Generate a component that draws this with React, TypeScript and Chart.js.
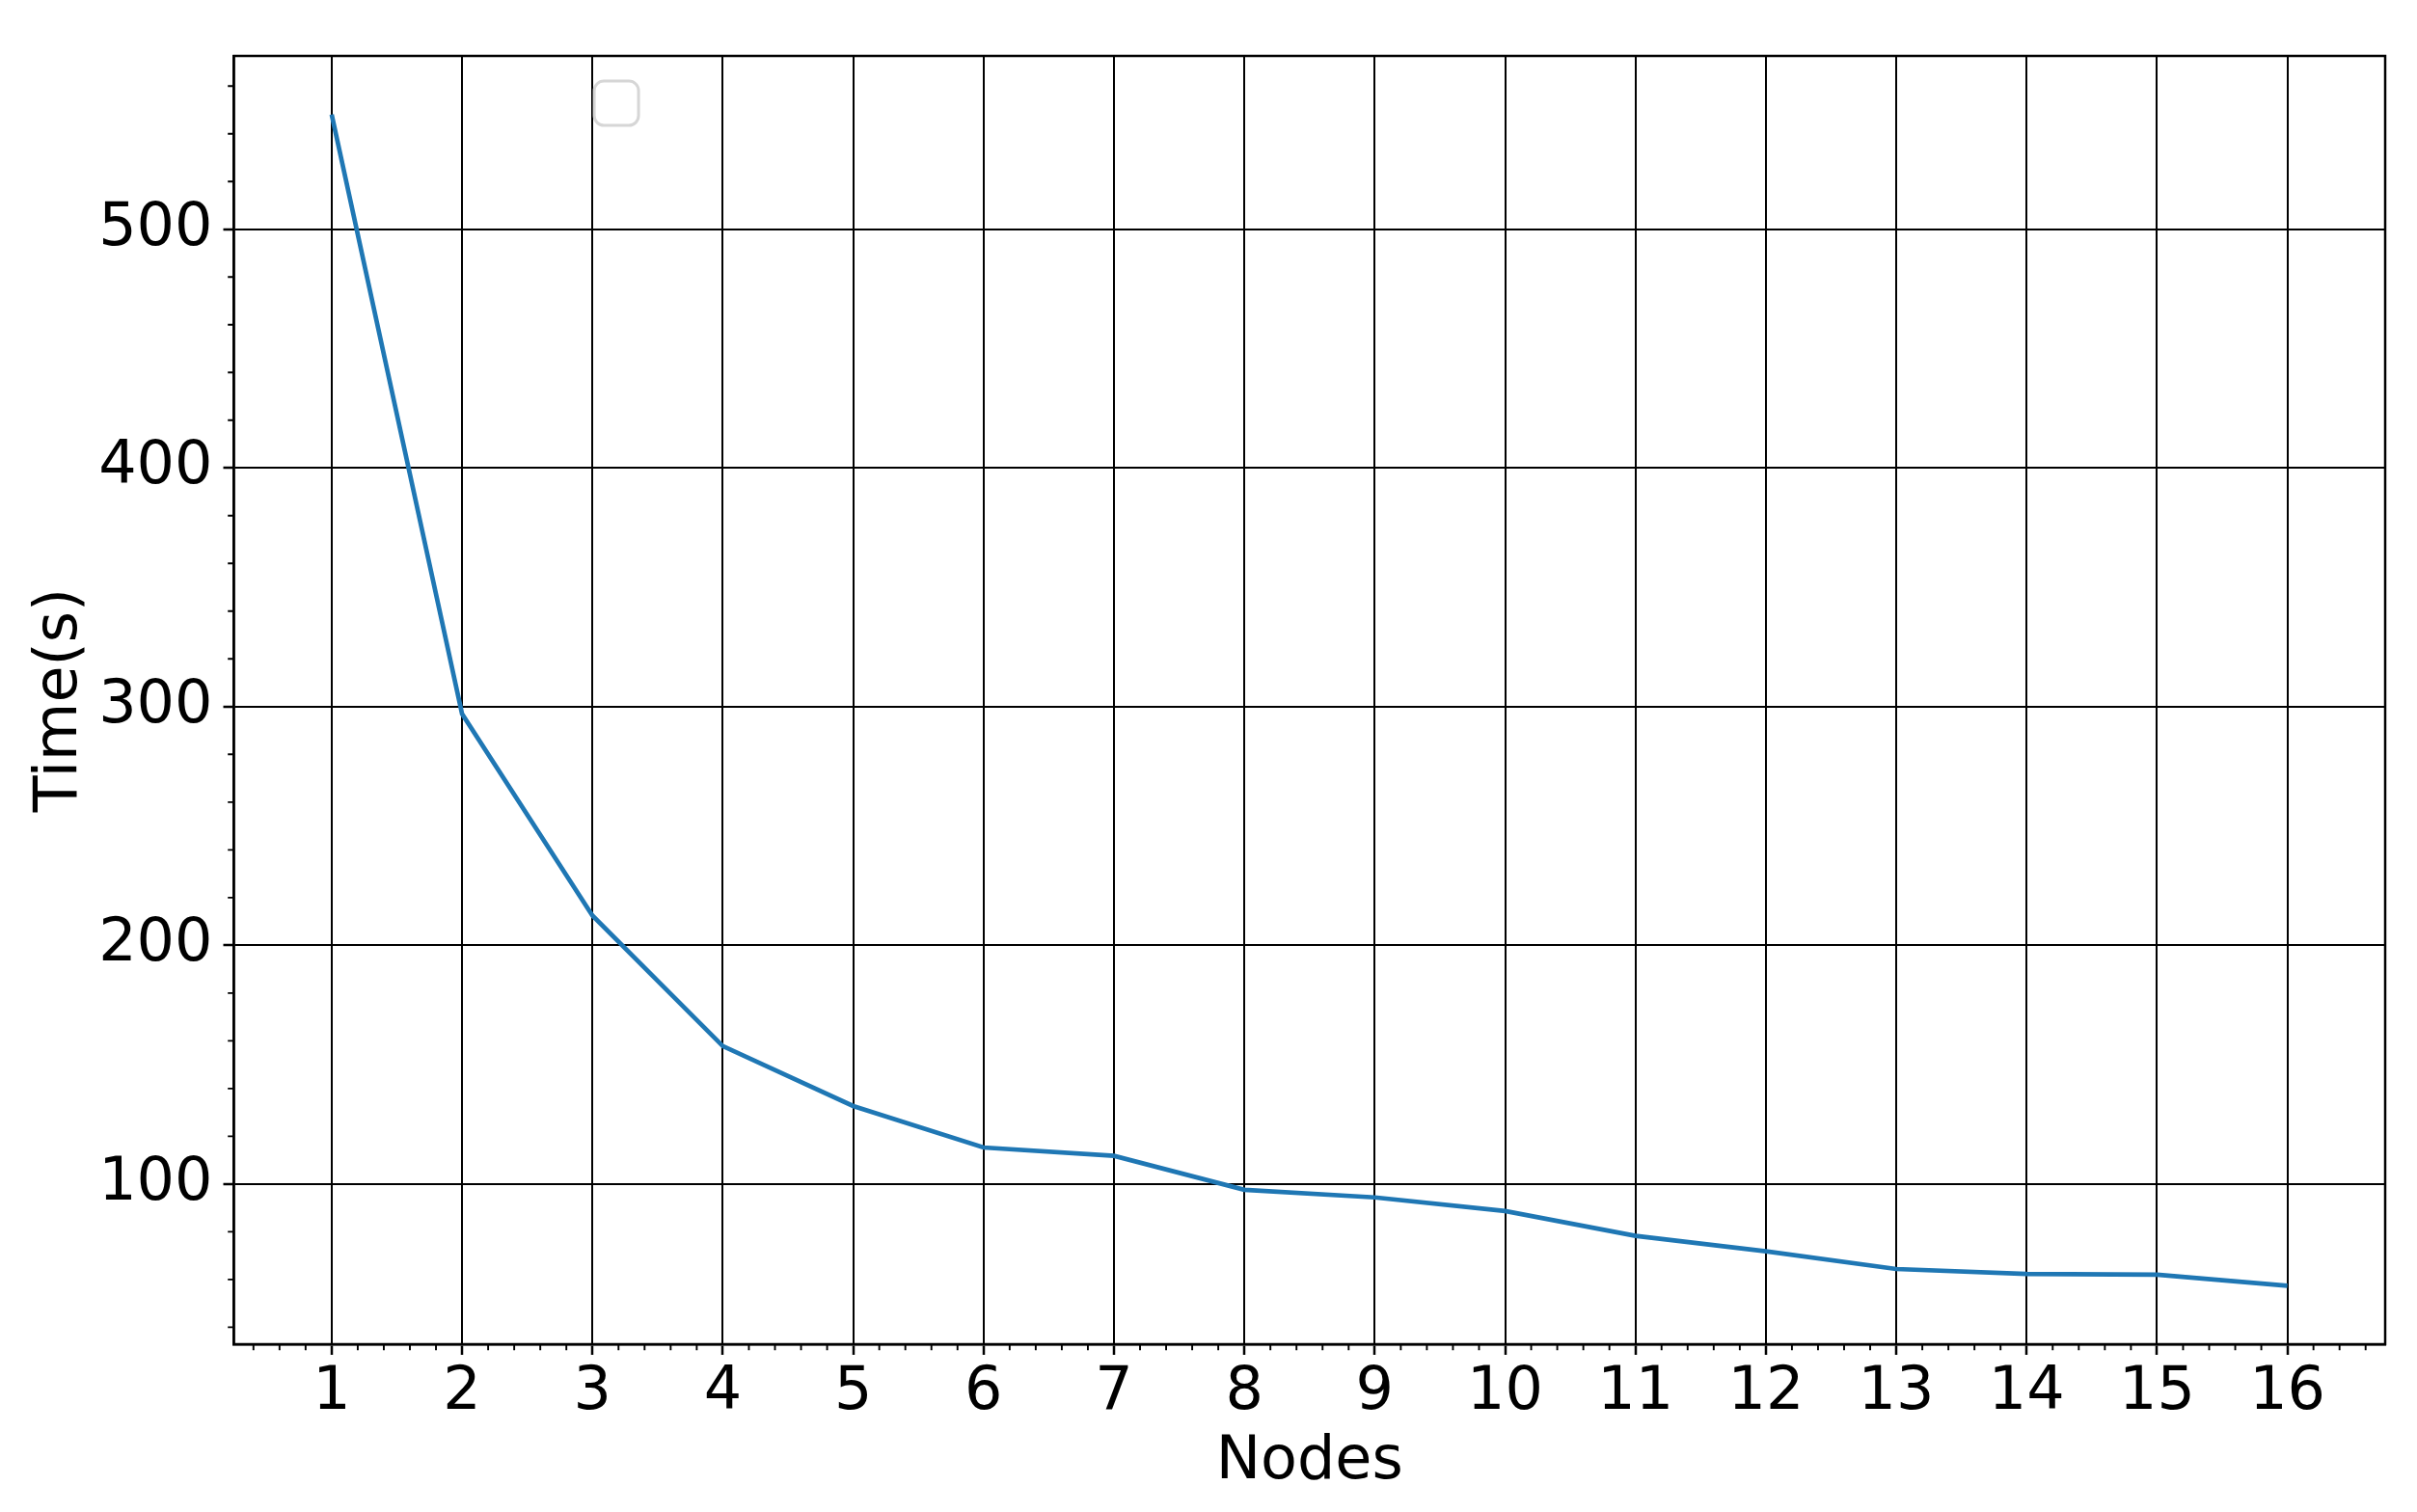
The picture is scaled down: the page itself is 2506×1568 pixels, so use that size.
import React, { useEffect, useRef } from "react";
import { Chart, registerables } from "chart.js";

Chart.register(...registerables);

// ---- data ----
const nodes = [1, 2, 3, 4, 5, 6, 7, 8, 9, 10, 11, 12, 13, 14, 15, 16];
const times = [548.1, 297.0, 212.5, 157.8, 132.7, 115.3, 111.8, 97.6, 94.4, 88.7, 78.3, 71.8, 64.4, 62.3, 62.0, 57.4];
const xTickValues = [1, 2, 3, 4, 5, 6, 7, 8, 9, 10, 11, 12, 13, 14, 15, 16];
const yTickValues = [100, 200, 300, 400, 500];
const xLimits = [0.25, 16.75];
const yLimits = [32.9, 572.6];
const xMinorStep = 0.2;
const yMinorStep = 20;
const xLabel = "Nodes";
const yLabel = "Time(s)";

const W = 2506;
const H = 1568;
const FONT = "'DejaVu Sans', sans-serif";
const FS = 62;

const frameAndMinor = {
  id: "frameAndMinor",
  afterDraw(chart: any) {
    const { ctx, chartArea } = chart;
    const xs = chart.scales.x;
    const ys = chart.scales.y;
    ctx.save();
    // minor ticks
    ctx.strokeStyle = "#000";
    ctx.lineWidth = 1.9;
    ctx.beginPath();
    for (let v = Math.ceil(xLimits[0] / xMinorStep) * xMinorStep; v <= xLimits[1] + 1e-9; v += xMinorStep) {
      const r = Math.round(v * 1000) / 1000;
      if (Math.abs(r - Math.round(r)) < 1e-6) continue;
      const px = xs.getPixelForValue(r);
      ctx.moveTo(px, chartArea.bottom);
      ctx.lineTo(px, chartArea.bottom + 6.3);
    }
    for (let v = Math.ceil(yLimits[0] / yMinorStep) * yMinorStep; v <= yLimits[1]; v += yMinorStep) {
      if (v % 100 === 0) continue;
      const py = ys.getPixelForValue(v);
      ctx.moveTo(chartArea.left, py);
      ctx.lineTo(chartArea.left - 6.3, py);
    }
    ctx.stroke();
    // frame (all four spines)
    ctx.lineWidth = 2.5;
    ctx.strokeRect(chartArea.left, chartArea.top, chartArea.right - chartArea.left, chartArea.bottom - chartArea.top);
    // empty legend frame
    const cw = chartArea.right - chartArea.left;
    const ch = chartArea.bottom - chartArea.top;
    const lx = chartArea.left + cw * 0.1675;
    const ly = chartArea.top + ch * 0.0195;
    const lw = cw * 0.0206;
    const lh = ch * 0.0344;
    ctx.strokeStyle = "#d6d6d6";
    ctx.fillStyle = "rgba(255,255,255,0.8)";
    ctx.lineWidth = 3;
    ctx.beginPath();
    (ctx as any).roundRect(lx, ly, lw, lh, 10);
    ctx.fill();
    ctx.stroke();
    ctx.restore();
  },
};

export default function App() {
  const ref = useRef<HTMLCanvasElement | null>(null);
  useEffect(() => {
    document.body.style.margin = "0";
    document.body.style.overflow = "hidden";
    const canvas = ref.current!;
    const font = { family: FONT, size: FS };
    const chart = new Chart(canvas, {
      type: "line",
      data: {
        datasets: [
          {
            data: nodes.map((n, i) => ({ x: n, y: times[i] })),
            borderColor: "#1f77b4",
            backgroundColor: "#1f77b4",
            borderWidth: 4.7,
            pointRadius: 0,
            tension: 0,
            fill: false,
          },
        ],
      },
      options: {
        animation: false,
        responsive: false,
        devicePixelRatio: 1,
        layout: { padding: { top: 58, right: 33, left: 0, bottom: 0 } },
        plugins: { legend: { display: false }, tooltip: { enabled: false } },
        scales: {
          x: {
            type: "linear",
            min: xLimits[0],
            max: xLimits[1],
            afterBuildTicks: (s: any) => {
              s.ticks = xTickValues.map((v) => ({ value: v }));
            },
            afterFit: (s: any) => {
              s.height = 174;
            },
            ticks: {
              font,
              color: "#000",
              padding: 3,
              maxRotation: 0,
              autoSkip: false,
              callback: (v: any) => String(v),
            },
            grid: { color: "#000", lineWidth: 2, tickLength: 11, tickWidth: 2.5 },
            border: { color: "#000", width: 2.5 },
            title: { display: true, text: xLabel, font, color: "#000", padding: { top: 0, bottom: 14 } },
          },
          y: {
            type: "linear",
            min: yLimits[0],
            max: yLimits[1],
            afterBuildTicks: (s: any) => {
              s.ticks = yTickValues.map((v) => ({ value: v }));
            },
            afterFit: (s: any) => {
              s.width = 242.5;
            },
            ticks: {
              font,
              color: "#000",
              padding: 11,
              autoSkip: false,
              callback: (v: any) => String(v),
            },
            grid: { color: "#000", lineWidth: 2, tickLength: 11, tickWidth: 2.5 },
            border: { color: "#000", width: 2.5 },
            title: { display: true, text: yLabel, font, color: "#000", padding: { top: 26, bottom: 0 } },
          },
        },
      },
      plugins: [frameAndMinor],
    });
    return () => chart.destroy();
  }, []);
  return (
    <div style={{ width: W, height: H, background: "#fff" }}>
      <canvas ref={ref} width={W} height={H} style={{ display: "block", width: W, height: H }} />
    </div>
  );
}
